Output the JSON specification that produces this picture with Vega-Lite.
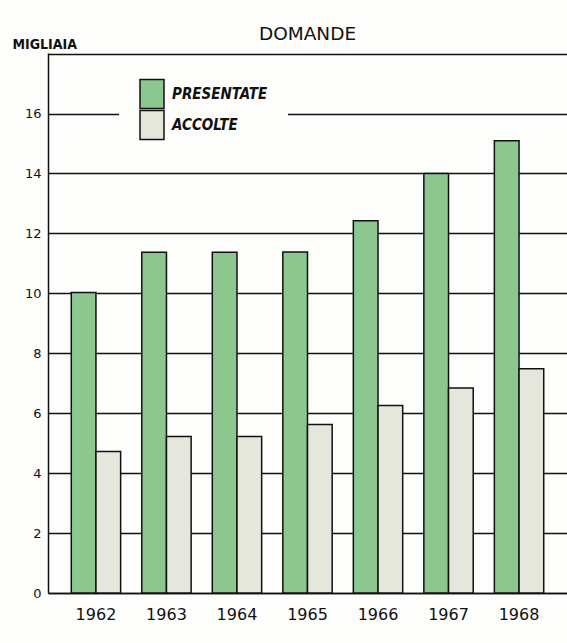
{
  "$schema": "https://vega.github.io/schema/vega-lite/v6.json",
  "autosize": "none",
  "width": 519,
  "height": 540,
  "padding": {"left": 48, "top": 53, "right": 0, "bottom": 50},
  "background": "#fdfdfb",
  "title": {
    "text": "DOMANDE",
    "anchor": "middle",
    "offset": -6,
    "font": "DejaVu Sans",
    "fontSize": 18.5,
    "fontWeight": "normal",
    "color": "#111"
  },
  "data": {
    "values": [
      {"anno": "1962", "serie": "PRESENTATE", "valore": 10.03},
      {"anno": "1962", "serie": "ACCOLTE", "valore": 4.72},
      {"anno": "1963", "serie": "PRESENTATE", "valore": 11.37},
      {"anno": "1963", "serie": "ACCOLTE", "valore": 5.22},
      {"anno": "1964", "serie": "PRESENTATE", "valore": 11.37},
      {"anno": "1964", "serie": "ACCOLTE", "valore": 5.22},
      {"anno": "1965", "serie": "PRESENTATE", "valore": 11.38},
      {"anno": "1965", "serie": "ACCOLTE", "valore": 5.62},
      {"anno": "1966", "serie": "PRESENTATE", "valore": 12.42},
      {"anno": "1966", "serie": "ACCOLTE", "valore": 6.26},
      {"anno": "1967", "serie": "PRESENTATE", "valore": 14.0},
      {"anno": "1967", "serie": "ACCOLTE", "valore": 6.84},
      {"anno": "1968", "serie": "PRESENTATE", "valore": 15.09},
      {"anno": "1968", "serie": "ACCOLTE", "valore": 7.48}
    ]
  },
  "mark": {"type": "bar", "stroke": "#111", "strokeWidth": 1.5},
  "encoding": {
    "x": {
      "field": "anno",
      "type": "nominal",
      "scale": {"paddingInner": 0.3, "paddingOuter": 0.33},
      "axis": {
        "title": null,
        "labelAngle": 0,
        "ticks": false,
        "domain": true,
        "domainColor": "#111",
        "domainWidth": 1.5,
        "labelFont": "DejaVu Sans",
        "labelFontSize": 16,
        "labelColor": "#111",
        "labelPadding": 13
      }
    },
    "xOffset": {"field": "serie", "type": "nominal", "sort": ["PRESENTATE", "ACCOLTE"], "scale": {"paddingInner": 0}},
    "y": {
      "field": "valore",
      "type": "quantitative",
      "scale": {"domain": [0, 18.02], "nice": false},
      "axis": {
        "values": [0, 2, 4, 6, 8, 10, 12, 14, 16, 18],
        "labelExpr": "datum.value == 18 ? '' : datum.label",
        "title": "MIGLIAIA",
        "titleAngle": 0,
        "titleAlign": "left",
        "titleBaseline": "bottom",
        "titleX": -36,
        "titleY": -2,
        "titleFont": "DejaVu Sans Condensed",
        "titleFontSize": 14,
        "titleFontWeight": "bold",
        "titleColor": "#111",
        "ticks": false,
        "domain": true,
        "domainColor": "#111",
        "domainWidth": 1.5,
        "grid": true,
        "gridColor": "#111",
        "gridWidth": 1.5,
        "gridOpacity": 1,
        "labelFont": "DejaVu Sans",
        "labelFontSize": 13,
        "labelColor": "#111",
        "labelPadding": 7
      }
    },
    "color": {
      "field": "serie",
      "type": "nominal",
      "sort": ["PRESENTATE", "ACCOLTE"],
      "scale": {"domain": ["PRESENTATE", "ACCOLTE"], "range": ["#8cc78f", "#e5e7dd"]},
      "legend": {
        "title": null,
        "orient": "none",
        "legendX": 71,
        "legendY": 8,
        "direction": "vertical",
        "symbolType": "M-1,-1.2H1V1.2H-1Z",
        "symbolSize": 576,
        "symbolStrokeColor": "#111",
        "symbolStrokeWidth": 1.5,
        "symbolOpacity": 1,
        "rowPadding": -11,
        "labelOffset": 7,
        "labelFont": "DejaVu Sans Condensed",
        "labelFontSize": 15,
        "labelFontStyle": "italic",
        "labelFontWeight": "bold",
        "labelColor": "#111",
        "fillColor": "#fdfdfb",
        "padding": 20
      }
    }
  },
  "config": {"view": {"stroke": null}}
}
